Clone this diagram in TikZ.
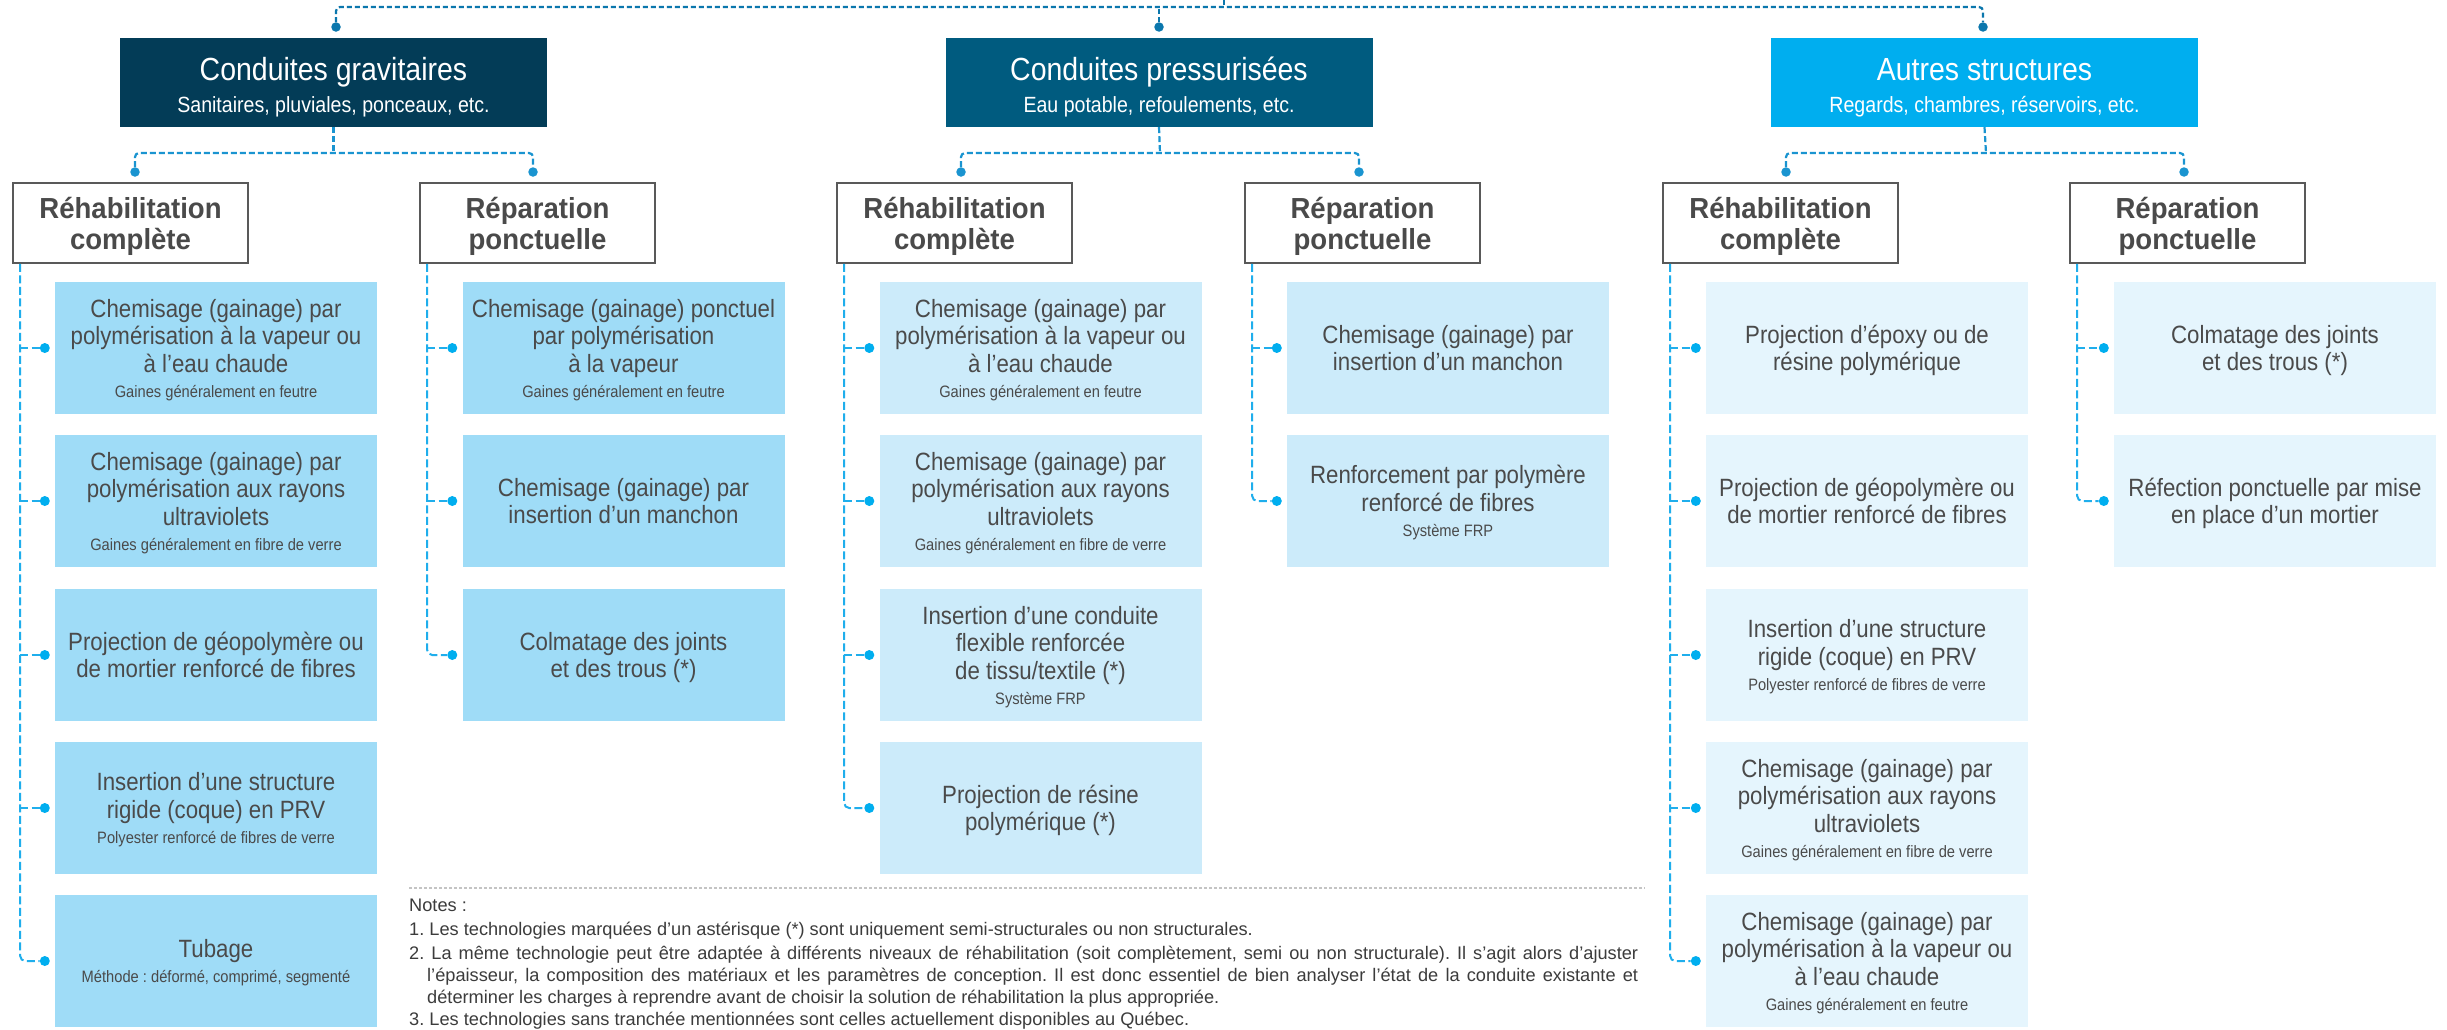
\documentclass[tikz,border=0pt]{standalone}
\usepackage{fontspec}
\setmainfont{Liberation Sans}
\newfontfamily\fitem{Liberation Sans}[FakeStretch=0.89]
\newfontfamily\fsubb{Liberation Sans}[FakeStretch=0.95]
\newfontfamily\fnote{Liberation Sans}
\usetikzlibrary{calc}
\frenchspacing
\definecolor{cgrav}{HTML}{033C57}
\definecolor{cpress}{HTML}{005B7F}
\definecolor{cautre}{HTML}{00AEEF}
\definecolor{fillA}{HTML}{9FDCF7}
\definecolor{fillB}{HTML}{CCEBFA}
\definecolor{fillC}{HTML}{E5F5FD}
\definecolor{txtgray}{HTML}{4A4A4A}
\definecolor{notegray}{HTML}{3C3C3C}
\definecolor{subborder}{HTML}{595959}
\definecolor{lineA}{HTML}{0B77AD}
\definecolor{lineB}{HTML}{1A94D0}
\definecolor{lineC}{HTML}{1FAEEC}
\definecolor{dotC}{HTML}{00AEEF}
\definecolor{sepgray}{HTML}{C4C4C4}
\tikzset{
  catbox/.style={draw=none, minimum width=427pt, minimum height=89pt, inner sep=0pt},
  cattitle/.style={font=\fitem\fontsize{32}{36}\selectfont, text=white, inner sep=0pt},
  catsub/.style={font=\fitem\fontsize{22}{26}\selectfont, text=white, inner sep=0pt},
  subbox/.style={draw=subborder, line width=1.6pt, fill=white, minimum width=235pt, minimum height=80pt, inner sep=0pt},
  subtxt/.style={font=\fsubb\bfseries\fontsize{29}{32}\selectfont, text=txtgray, inner sep=0pt},
  itembox/.style={draw=none, minimum width=322pt, minimum height=132pt, inner sep=0pt},
  itemtxt/.style={font=\fitem\fontsize{25}{27.5}\selectfont, text=txtgray, inner sep=0pt},
  smalltxt/.style={font=\fitem\fontsize{16.5}{18}\selectfont, text=txtgray, inner sep=0pt},
  notetxt/.style={font=\fnote\fontsize{18.2}{22}\selectfont, text=notegray, inner sep=0pt, anchor=base west},
  dotA/.style={circle, fill=lineA, minimum size=9.5pt, inner sep=0pt},
  dotB/.style={circle, fill=lineB, minimum size=9.5pt, inner sep=0pt},
  dotI/.style={circle, fill=dotC, minimum size=10pt, inner sep=0pt},
  lineone/.style={draw=lineA, line width=2.2pt, dash pattern=on 5pt off 3pt, rounded corners=4pt},
  linetwo/.style={draw=lineB, line width=2.2pt, dash pattern=on 6pt off 3pt, rounded corners=4pt},
  itemline/.style={draw=lineC, line width=2pt, dash pattern=on 8pt off 3.5pt},
}
% item: name, cx, cy, fill, n main lines, has small (0/1), {lines}, small text
\newcommand\itm[8]{%
  \node[itembox, fill=#4] (#1) at (#2,#3) {};
  \pgfmathsetmacro\firstb{#3-(18+27.5*(#5-1)+25*#6)/2+18}
  \foreach \itemline [count=\k from 0] in {#7}{
    \node[itemtxt, anchor=base] (#1l\k) at (#2,\firstb+27.5*\k) {\itemline};
  }
  \ifnum#6=1
    \pgfmathsetmacro\smallb{\firstb+27.5*(#5-1)+25}
    \node[smalltxt, anchor=base] (#1s) at (#2,\smallb) {#8};
  \fi
}
% connectors of a group: prefix, sub-box name, number of items
\newcommand\grp[3]{%
  \coordinate (#1v) at ($(#2.south west)+(8,0)$);
  \draw[itemline, rounded corners=5pt] (#1v) |- (#1d#3.west);
  \pgfmathtruncatemacro\mlast{#3-1}
  \foreach \k in {1,...,\mlast}{
    \draw[itemline] (#1v |- #1d\k.west) -- (#1d\k.west);
  }
}
\begin{document}
\begin{tikzpicture}[x=1pt,y=-1pt]
\useasboundingbox (0,0) rectangle (2447,1029);
\fill[white] (0,0) rectangle (2447,1029);

% ---------- category boxes
\node[catbox, fill=cgrav] (c1) at (333.5,82.5) {};
\node[cattitle, anchor=base] (c1t) at (333.5,80) {Conduites gravitaires};
\node[catsub, anchor=base] (c1s) at (333.5,112) {Sanitaires, pluviales, ponceaux, etc.};
\node[catbox, fill=cpress] (c2) at (1159,82.5) {};
\node[cattitle, anchor=base] (c2t) at (1159,80) {Conduites pressurisées};
\node[catsub, anchor=base] (c2s) at (1159,112) {Eau potable, refoulements, etc.};
\node[catbox, fill=cautre] (c3) at (1984.5,82.5) {};
\node[cattitle, anchor=base] (c3t) at (1984.5,80) {Autres structures};
\node[catsub, anchor=base] (c3s) at (1984.5,112) {Regards, chambres, réservoirs, etc.};

% ---------- level-1 connector
\node[dotA] (c1dot) at (336,27) {};
\node[dotA] (c2dot) at (1159,27) {};
\node[dotA] (c3dot) at (1983,27) {};
\coordinate (toprow) at (1224,7);
\coordinate (toptick) at (1224,0);
\draw[lineone] (c1dot.north) |- (c3dot.north |- toprow) -- (c3dot.north);
\draw[lineone] (c2dot.north) -- (c2dot.north |- toprow);
\draw[lineone] (toptick) -- (toprow);

% ---------- sub boxes
\foreach \nm/\cx/\ta/\tb in {s1/130.5/Réhabilitation/complète, s2/537.5/Réparation/ponctuelle,
  s3/954.5/Réhabilitation/complète, s4/1362.5/Réparation/ponctuelle,
  s5/1780.5/Réhabilitation/complète, s6/2187.5/Réparation/ponctuelle}{
  \node[subbox] (\nm) at (\cx,223) {};
  \node[subtxt, anchor=base] (\nm a) at (\cx,218) {\ta};
  \node[subtxt, anchor=base] (\nm b) at (\cx,249) {\tb};
}

% ---------- level-2 connectors
\node[dotB] (s1dot) at (135,172) {};
\node[dotB] (s2dot) at (533,172) {};
\node[dotB] (s3dot) at (961,172) {};
\node[dotB] (s4dot) at (1359,172) {};
\node[dotB] (s5dot) at (1786,172) {};
\node[dotB] (s6dot) at (2184,172) {};
\coordinate (h1) at (333.5,153);
\coordinate (h2) at (1160,153);
\coordinate (h3) at (1986,153);
\draw[linetwo] (s1dot.north) |- (s2dot.north |- h1) -- (s2dot.north);
\draw[linetwo] (c1.south) -- (h1);
\draw[linetwo] (s3dot.north) |- (s4dot.north |- h2) -- (s4dot.north);
\draw[linetwo] (c2.south) -- (h2);
\draw[linetwo] (s5dot.north) |- (s6dot.north |- h3) -- (s6dot.north);
\draw[linetwo] (c3.south) -- (h3);

% ---------- items: group 1
\itm{g1i1}{216}{348}{fillA}{3}{1}{{Chemisage (gainage) par},{polymérisation à la vapeur ou},{à l’eau chaude}}{Gaines généralement en feutre}
\itm{g1i2}{216}{501}{fillA}{3}{1}{{Chemisage (gainage) par},{polymérisation aux rayons},{ultraviolets}}{Gaines généralement en fibre de verre}
\itm{g1i3}{216}{655}{fillA}{2}{0}{{Projection de géopolymère ou},{de mortier renforcé de fibres}}{}
\itm{g1i4}{216}{808}{fillA}{2}{1}{{Insertion d’une structure},{rigide (coque) en PRV}}{Polyester renforcé de fibres de verre}
\itm{g1i5}{216}{961}{fillA}{1}{1}{{Tubage}}{Méthode : déformé, comprimé, segmenté}
% group 2
\itm{g2i1}{623.5}{348}{fillA}{3}{1}{{Chemisage (gainage) ponctuel},{par polymérisation},{à la vapeur}}{Gaines généralement en feutre}
\itm{g2i2}{623.5}{501}{fillA}{2}{0}{{Chemisage (gainage) par},{insertion d’un manchon}}{}
\itm{g2i3}{623.5}{655}{fillA}{2}{0}{{Colmatage des joints},{et des trous (*)}}{}
% group 3
\itm{g3i1}{1040.5}{348}{fillB}{3}{1}{{Chemisage (gainage) par},{polymérisation à la vapeur ou},{à l’eau chaude}}{Gaines généralement en feutre}
\itm{g3i2}{1040.5}{501}{fillB}{3}{1}{{Chemisage (gainage) par},{polymérisation aux rayons},{ultraviolets}}{Gaines généralement en fibre de verre}
\itm{g3i3}{1040.5}{655}{fillB}{3}{1}{{Insertion d’une conduite},{flexible renforcée},{de tissu/textile (*)}}{Système FRP}
\itm{g3i4}{1040.5}{808}{fillB}{2}{0}{{Projection de résine},{polymérique (*)}}{}
% group 4
\itm{g4i1}{1448}{348}{fillB}{2}{0}{{Chemisage (gainage) par},{insertion d’un manchon}}{}
\itm{g4i2}{1448}{501}{fillB}{2}{1}{{Renforcement par polymère},{renforcé de fibres}}{Système FRP}
% group 5
\itm{g5i1}{1867}{348}{fillC}{2}{0}{{Projection d’époxy ou de},{résine polymérique}}{}
\itm{g5i2}{1867}{501}{fillC}{2}{0}{{Projection de géopolymère ou},{de mortier renforcé de fibres}}{}
\itm{g5i3}{1867}{655}{fillC}{2}{1}{{Insertion d’une structure},{rigide (coque) en PRV}}{Polyester renforcé de fibres de verre}
\itm{g5i4}{1867}{808}{fillC}{3}{1}{{Chemisage (gainage) par},{polymérisation aux rayons},{ultraviolets}}{Gaines généralement en fibre de verre}
\itm{g5i5}{1867}{961}{fillC}{3}{1}{{Chemisage (gainage) par},{polymérisation à la vapeur ou},{à l’eau chaude}}{Gaines généralement en feutre}
% group 6
\itm{g6i1}{2275}{348}{fillC}{2}{0}{{Colmatage des joints},{et des trous (*)}}{}
\itm{g6i2}{2275}{501}{fillC}{2}{0}{{Réfection ponctuelle par mise},{en place d’un mortier}}{}

% ---------- item dots
\foreach \g/\n in {g1/5, g2/3, g3/4, g4/2, g5/5, g6/2}{
  \foreach \k in {1,...,\n}{
    \node[dotI] (\g d\k) at ($(\g i\k.west)+(-10,0)$) {};
  }
}
% ---------- item connectors
\grp{g1}{s1}{5}
\grp{g2}{s2}{3}
\grp{g3}{s3}{4}
\grp{g4}{s4}{2}
\grp{g5}{s5}{5}
\grp{g6}{s6}{2}

% ---------- notes
\coordinate (sepL) at (409,888);
\coordinate (sepR) at (1645,888);
\draw[draw=sepgray, line width=1.8pt, dash pattern=on 3pt off 2pt] (sepL) -- (sepR);
\node[notetxt] (n0) at (409,911) {Notes :};
\node[notetxt] (n1) at (409,935) {1. Les technologies marquées d’un astérisque (*) sont uniquement semi-structurales ou non structurales.};
\node[notetxt] (n2a) at (409,959) {\makebox[1229pt][s]{2. La même technologie peut être adaptée à différents niveaux de réhabilitation (soit complètement, semi ou non structurale). Il s’agit alors d’ajuster}};
\node[notetxt] (n2b) at (427,981) {\makebox[1211pt][s]{l’épaisseur, la composition des matériaux et les paramètres de conception. Il est donc essentiel de bien analyser l’état de la conduite existante et}};
\node[notetxt] (n2c) at (427,1003) {déterminer les charges à reprendre avant de choisir la solution de réhabilitation la plus appropriée.};
\node[notetxt] (n3) at (409,1025) {3. Les technologies sans tranchée mentionnées sont celles actuellement disponibles au Québec.};
\end{tikzpicture}
\end{document}
